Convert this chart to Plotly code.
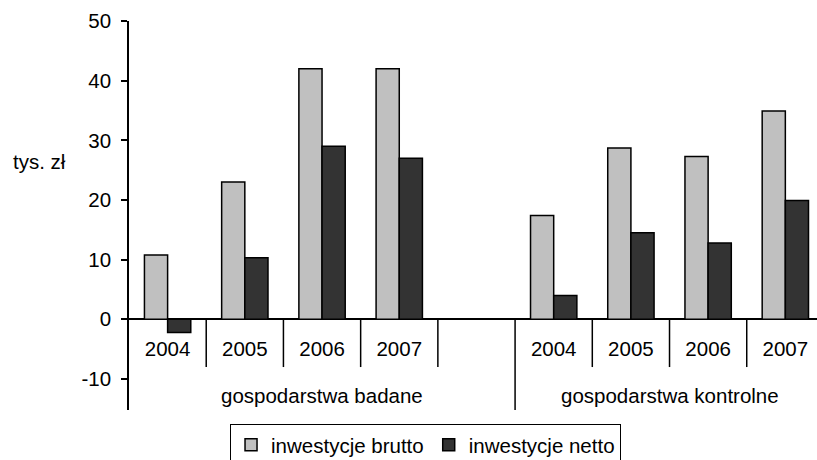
import plotly.graph_objects as go

# Category structure: two farm groups, four years each, with an empty slot between them
years = ["2004", "2005", "2006", "2007"]
groups = ["gospodarstwa badane", "gospodarstwa kontrolne"]

# Investment values, thousand PLN
brutto_badane = [10.8, 23.0, 42.0, 42.0]
netto_badane = [-2.2, 10.3, 29.0, 27.0]
brutto_kontrolne = [17.4, 28.7, 27.3, 34.9]
netto_kontrolne = [4.0, 14.5, 12.8, 19.9]

y_ticks = [-10, 0, 10, 20, 30, 40, 50]
y_tick_text = ["-10", "0", "10", "20", "30", "40", "50"]
y_unit = "tys. zł"
series_names = ["inwestycje brutto", "inwestycje netto"]

# Slot positions on a numeric axis: group 1 -> 0..3, blank slot 4, group 2 -> 5..8
pos_badane = list(range(len(years)))
blank_slot = len(years)
pos_kontrolne = [blank_slot + 1 + i for i in range(len(years))]
x_pos = pos_badane + pos_kontrolne
tick_vals = pos_badane + [blank_slot] + pos_kontrolne
tick_text = years + [""] + years

brutto = brutto_badane + brutto_kontrolne
netto = netto_badane + netto_kontrolne

FONT = "Liberation Sans, Arial, sans-serif"
FS = 20.5
Y_MIN, Y_MAX = -15.2, 50
ZERO_POS = (0 - Y_MIN) / (Y_MAX - Y_MIN)

fig = go.Figure()
fig.add_trace(go.Bar(x=x_pos, y=brutto, name=series_names[0],
                     marker=dict(color="#C0C0C0", line=dict(color="black", width=1.5))))
fig.add_trace(go.Bar(x=x_pos, y=netto, name=series_names[1],
                     marker=dict(color="#333333", line=dict(color="black", width=1.5))))

# Divider lines between year slots (short) and between groups (long)
shapes = []
n_slots = len(tick_vals)
for i in range(n_slots):
    xd = i + 0.5
    y_end = Y_MIN if xd == blank_slot + 0.5 else -8.0
    shapes.append(dict(type="line", xref="x", yref="y", x0=xd, x1=xd, y0=0, y1=y_end,
                       line=dict(color="black", width=1.5)))

label_font = dict(family=FONT, size=FS, color="black")
annotations = [
    dict(x=(-0.5 + blank_slot + 0.5) / 2, y=-12.8, xref="x", yref="y", text=groups[0],
         showarrow=False, font=label_font),
    dict(x=(blank_slot + 0.5 + n_slots - 0.5) / 2, y=-12.8, xref="x", yref="y", text=groups[1],
         showarrow=False, font=label_font),
    dict(x=(39 - 129) / 688, y=26.5, xref="paper", yref="y", text=y_unit,
         showarrow=False, xanchor="center", font=label_font),
]

fig.update_layout(
    width=817, height=460,
    margin=dict(l=129, r=0, t=21, b=50, autoexpand=False),
    paper_bgcolor="white", plot_bgcolor="white",
    font=label_font,
    barmode="group", bargap=0.4, bargroupgap=0,
    showlegend=True,
    legend=dict(orientation="h", x=0.431, xanchor="center", y=-0.036, yanchor="top",
                bordercolor="black", borderwidth=1, bgcolor="white",
                font=label_font, itemwidth=30, tracegroupgap=0),
    xaxis=dict(range=[-0.5, 8.41], tickmode="array", tickvals=tick_vals, ticktext=tick_text,
               showgrid=False, showline=False, zeroline=False, ticks="",
               anchor="free", position=ZERO_POS, ticklabelstandoff=15, automargin=False),
    yaxis=dict(range=[Y_MIN, Y_MAX], tickmode="array", tickvals=y_ticks, ticktext=y_tick_text,
               showgrid=False, showline=True, linecolor="black", linewidth=1.5,
               ticks="outside", ticklen=6, tickwidth=1.5, tickcolor="black",
               ticklabelstandoff=6, automargin=False,
               zeroline=True, zerolinecolor="black", zerolinewidth=1.5),
    shapes=shapes,
    annotations=annotations,
)

fig.write_html("out.html")
